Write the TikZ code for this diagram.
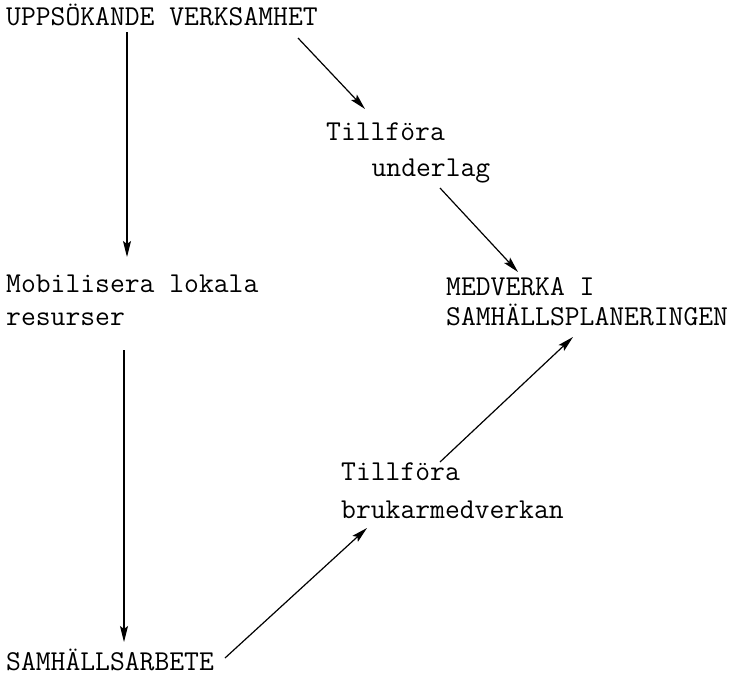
\documentclass[tikz,border=0pt]{standalone}
\usepackage{fontspec}
\usetikzlibrary{arrows.meta}
\begin{document}
\begin{tikzpicture}[x=1pt,y=-1pt,
  lbl/.style={anchor=base west,inner sep=0pt,align=left,
    font=\ttfamily\fontsize{28.8}{30}\selectfont},
  arr/.style={line width=1.2pt,-{Stealth[length=16pt,width=8pt,inset=3pt]}}]
\useasboundingbox (0,0) rectangle (738,675);
\node[lbl] (top) at (6,25) {UPPSÖKANDE VERKSAMHET};
\node[lbl] (mob) at (6,325) {Mobilisera lokala\\[3pt]resurser};
\node[lbl] (sam) at (6,670) {SAMHÄLLSARBETE};
\node[lbl] (tu) at (326,176) {Tillföra\\[6pt]\hspace*{45.4pt}underlag};
\node[lbl] (med) at (446,325) {MEDVERKA I\\SAMHÄLLSPLANERINGEN};
\node[lbl] (tb) at (341,518) {Tillföra\\[8pt]brukarmedverkan};
\coordinate (a1s) at (127,32);  \coordinate (a1e) at (127,257);
\coordinate (a2s) at (124,350); \coordinate (a2e) at (124,642);
\coordinate (a3s) at (298,38);  \coordinate (a3e) at (365,109);
\coordinate (a4s) at (440,188); \coordinate (a4e) at (518,272);
\coordinate (a5s) at (440,462); \coordinate (a5e) at (573,337);
\coordinate (a6s) at (225,658); \coordinate (a6e) at (367,528);
\draw[arr] (a1s) -- (a1e);
\draw[arr] (a2s) -- (a2e);
\draw[arr] (a3s) -- (a3e);
\draw[arr] (a4s) -- (a4e);
\draw[arr] (a5s) -- (a5e);
\draw[arr] (a6s) -- (a6e);
\end{tikzpicture}
\end{document}
